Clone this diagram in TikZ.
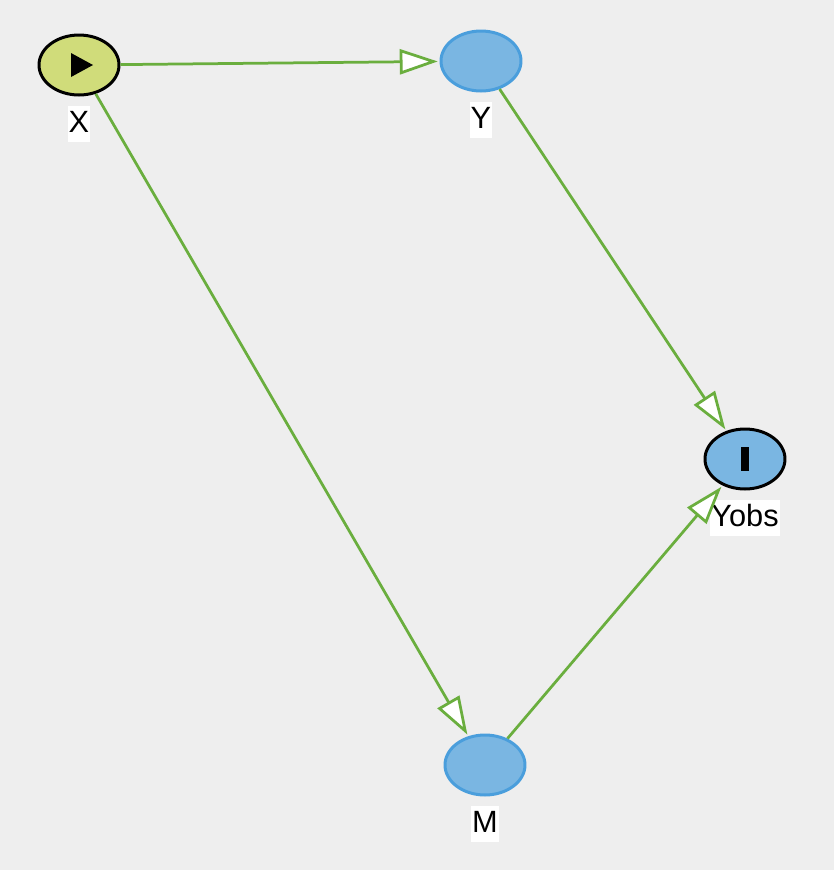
\documentclass[tikz,border=0pt]{standalone}
\usepackage{fontspec}
\setmainfont{Liberation Sans}
\usetikzlibrary{shapes.geometric, arrows.meta}

\definecolor{bggray}{HTML}{EEEEEE}
\definecolor{edgegreen}{HTML}{6AAE3E}
\definecolor{exofill}{HTML}{D0DC7A}
\definecolor{nodeblue}{HTML}{7AB6E2}
\definecolor{rimblue}{HTML}{4A9EDC}

\begin{document}
\begin{tikzpicture}[
    x=0.02cm, y=-0.02cm,
    var/.style={ellipse, draw=rimblue, fill=nodeblue, line width=0.06cm, minimum width=1.6cm, minimum height=1.2cm, inner sep=0pt},
    exo/.style={var, draw=black, fill=exofill},
    obs/.style={var, draw=black},
    lab/.style={fill=white, inner xsep=0.5pt, inner ysep=2pt, text height=13pt, text depth=3.5pt, font=\fontsize{17.5}{21}\selectfont},
    arrow/.style={draw=edgegreen, line width=0.055cm, -{Triangle[length=0.76cm, width=0.5cm, fill=white]}, shorten >=1pt}
]
\useasboundingbox[fill=bggray] (0,0) rectangle (834,870);

% Nodes
\node[exo] (X) at (79,65) {};
\node[var] (Y) at (481,61) {};
\node[obs] (Yobs) at (745,459) {};
\node[var] (M) at (485,765) {};

% Labels
\node[lab] (X_lab) at (79,124) {X};
\node[lab] (Y_lab) at (481,120) {Y};
\node[lab] (Yobs_lab) at (745,518) {Yobs};
\node[lab] (M_lab) at (485,824) {M};

% Icons
\fill[black] (71,53) -- (71,77) -- (93,65) -- cycle;
\fill[black] (741,447) rectangle (749,471);

% Edges
\draw[arrow] (X) -- (Y);
\draw[arrow] (X) -- (M);
\draw[arrow] (Y) -- (Yobs);
\draw[arrow] (M) -- (Yobs);

\end{tikzpicture}
\end{document}
